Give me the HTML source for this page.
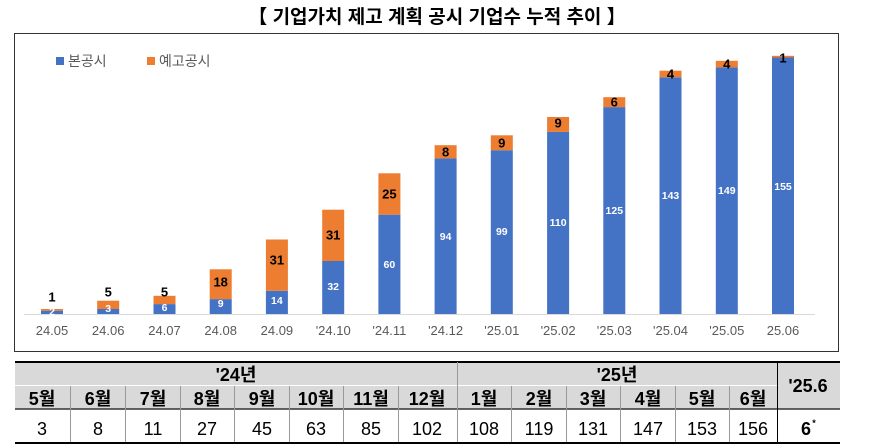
<!DOCTYPE html>
<html><head><meta charset="utf-8"><style>
html,body{margin:0;padding:0;background:#fff;width:877px;height:448px;overflow:hidden}
svg{display:block}
.k{font-family:"Liberation Sans","Noto Sans CJK KR",sans-serif}
.bl{font-family:"Liberation Sans",sans-serif;font-size:10.5px;font-weight:bold;fill:#fff;text-anchor:middle;dominant-baseline:central}
.or{font-family:"Liberation Sans",sans-serif;font-size:13px;font-weight:bold;fill:#000;text-anchor:middle;dominant-baseline:central}
.xl{font-family:"Liberation Sans",sans-serif;font-size:13px;fill:#595959;text-anchor:middle}
.t{font-family:"Liberation Sans Narrow","Liberation Sans","Noto Sans CJK KR",sans-serif;font-size:18px;text-anchor:middle;fill:#000}
</style></head><body>
<svg width="877" height="448" viewBox="0 0 877 448">
<text x="437" y="23" text-anchor="middle" class="k" font-size="19" font-weight="bold">【 기업가치 제고 계획 공시 기업수 누적 추이 】</text>
<rect x="14.5" y="33.5" width="824" height="318" fill="none" stroke="#333" stroke-width="1"/>
<rect x="56" y="57" width="8" height="8" fill="#4472c4"/>
<text x="68" y="66" class="k" font-size="14" fill="#595959">본공시</text>
<rect x="147" y="57" width="8" height="8" fill="#ed7d31"/>
<text x="159" y="66" class="k" font-size="14" fill="#595959">예고공시</text>
<line x1="24" y1="314.5" x2="815" y2="314.5" stroke="#d9d9d9"/>
<g fill="#4472c4">
<rect x="41" y="310.7" width="22" height="3.3"/>
<rect x="97.2" y="309" width="22" height="5"/>
<rect x="153.5" y="304.1" width="22" height="9.9"/>
<rect x="209.7" y="299.1" width="22" height="14.9"/>
<rect x="265.9" y="290.8" width="22" height="23.2"/>
<rect x="322.2" y="261" width="22" height="53"/>
<rect x="378.4" y="214.7" width="22" height="99.3"/>
<rect x="434.6" y="158.4" width="22" height="155.6"/>
<rect x="490.8" y="150.2" width="22" height="163.8"/>
<rect x="547.1" y="131.9" width="22" height="182.1"/>
<rect x="603.3" y="107.1" width="22" height="206.9"/>
<rect x="659.5" y="77.3" width="22" height="236.7"/>
<rect x="715.8" y="67.4" width="22" height="246.6"/>
<rect x="772" y="57.5" width="22" height="256.5"/>
</g>
<g fill="#ed7d31">
<rect x="41" y="309" width="22" height="1.7"/>
<rect x="97.2" y="300.7" width="22" height="8.3"/>
<rect x="153.5" y="295.8" width="22" height="8.3"/>
<rect x="209.7" y="269.3" width="22" height="29.8"/>
<rect x="265.9" y="239.5" width="22" height="51.3"/>
<rect x="322.2" y="209.7" width="22" height="51.3"/>
<rect x="378.4" y="173.3" width="22" height="41.4"/>
<rect x="434.6" y="145.2" width="22" height="13.2"/>
<rect x="490.8" y="135.3" width="22" height="14.9"/>
<rect x="547.1" y="117" width="22" height="14.9"/>
<rect x="603.3" y="97.2" width="22" height="9.9"/>
<rect x="659.5" y="70.7" width="22" height="6.6"/>
<rect x="715.8" y="60.8" width="22" height="6.6"/>
<rect x="772" y="55.8" width="22" height="1.7"/>
</g>
<text class="bl" x="52" y="312">2</text>
<text class="bl" x="108.2" y="309">3</text>
<text class="bl" x="164.5" y="308">6</text>
<text class="bl" x="220.7" y="304">9</text>
<text class="bl" x="276.9" y="301">14</text>
<text class="bl" x="333.2" y="287">32</text>
<text class="bl" x="389.4" y="265">60</text>
<text class="bl" x="445.6" y="237">94</text>
<text class="bl" x="501.8" y="232">99</text>
<text class="bl" x="558.1" y="223">110</text>
<text class="bl" x="614.3" y="211">125</text>
<text class="bl" x="670.5" y="196">143</text>
<text class="bl" x="726.8" y="191">149</text>
<text class="bl" x="783" y="187">155</text>
<text class="or" x="52" y="297">1</text>
<text class="or" x="108.2" y="292">5</text>
<text class="or" x="164.5" y="292">5</text>
<text class="or" x="220.7" y="282">18</text>
<text class="or" x="276.9" y="260">31</text>
<text class="or" x="333.2" y="235">31</text>
<text class="or" x="389.4" y="194">25</text>
<text class="or" x="445.6" y="152">8</text>
<text class="or" x="501.8" y="143">9</text>
<text class="or" x="558.1" y="123">9</text>
<text class="or" x="614.3" y="102">6</text>
<text class="or" x="670.5" y="74">4</text>
<text class="or" x="726.8" y="64">4</text>
<text class="or" x="783" y="58">1</text>
<g class="xl">
<text x="52" y="335">24.05</text><text x="108.2" y="335">24.06</text><text x="164.5" y="335">24.07</text>
<text x="220.7" y="335">24.08</text><text x="276.9" y="335">24.09</text><text x="333.2" y="335">'24.10</text>
<text x="389.4" y="335">'24.11</text><text x="445.6" y="335">'24.12</text><text x="501.8" y="335">'25.01</text>
<text x="558.1" y="335">'25.02</text><text x="614.3" y="335">'25.03</text><text x="670.5" y="335">'25.04</text>
<text x="726.8" y="335">'25.05</text><text x="783" y="335">25.06</text>
</g>
<rect x="15" y="362" width="825" height="47" fill="#d9d9d9"/>
<line x1="15" y1="362" x2="840" y2="362" stroke="#000" stroke-width="2"/>
<line x1="15" y1="443" x2="840" y2="443" stroke="#000" stroke-width="2"/>
<line x1="15" y1="385.5" x2="777" y2="385.5" stroke="#fff" stroke-width="1"/>
<line x1="15" y1="409" x2="840" y2="409" stroke="#333" stroke-width="1.5"/>
<g stroke="#999" stroke-width="1">
<line x1="457.5" y1="362" x2="457.5" y2="442"/>
<line x1="777.5" y1="362" x2="777.5" y2="442" stroke="#000"/>
<line x1="70.5" y1="386" x2="70.5" y2="442"/><line x1="125.5" y1="386" x2="125.5" y2="442"/>
<line x1="180.5" y1="386" x2="180.5" y2="442"/><line x1="234.5" y1="386" x2="234.5" y2="442"/>
<line x1="289.5" y1="386" x2="289.5" y2="442"/><line x1="343.5" y1="386" x2="343.5" y2="442"/>
<line x1="398.5" y1="386" x2="398.5" y2="442"/>
<line x1="511.5" y1="386" x2="511.5" y2="442"/><line x1="566.5" y1="386" x2="566.5" y2="442"/>
<line x1="620.5" y1="386" x2="620.5" y2="442"/><line x1="675.5" y1="386" x2="675.5" y2="442"/>
<line x1="729.5" y1="386" x2="729.5" y2="442"/>
</g>
<g class="t" font-weight="bold" font-size="19">
<text x="236" y="381">'24년</text><text x="617" y="381">'25년</text><text x="808" y="392">'25.6</text>
<text x="42" y="405">5월</text><text x="98" y="405">6월</text><text x="153" y="405">7월</text><text x="207" y="405">8월</text>
<text x="262" y="405">9월</text><text x="316" y="405">10월</text><text x="371" y="405">11월</text><text x="427" y="405">12월</text>
<text x="484" y="405">1월</text><text x="539" y="405">2월</text><text x="593" y="405">3월</text><text x="648" y="405">4월</text>
<text x="702" y="405">5월</text><text x="753" y="405">6월</text>
</g>
<g class="t">
<text x="42" y="435">3</text><text x="98" y="435">8</text><text x="153" y="435">11</text><text x="207" y="435">27</text>
<text x="262" y="435">45</text><text x="316" y="435">63</text><text x="371" y="435">85</text><text x="427" y="435">102</text>
<text x="484" y="435">108</text><text x="539" y="435">119</text><text x="593" y="435">131</text><text x="648" y="435">147</text>
<text x="702" y="435">153</text><text x="753" y="435">156</text>
<text x="806" y="435" font-weight="bold">6</text><text x="814" y="426" font-size="9" font-weight="bold">*</text>
</g>
</svg>
</body></html>
